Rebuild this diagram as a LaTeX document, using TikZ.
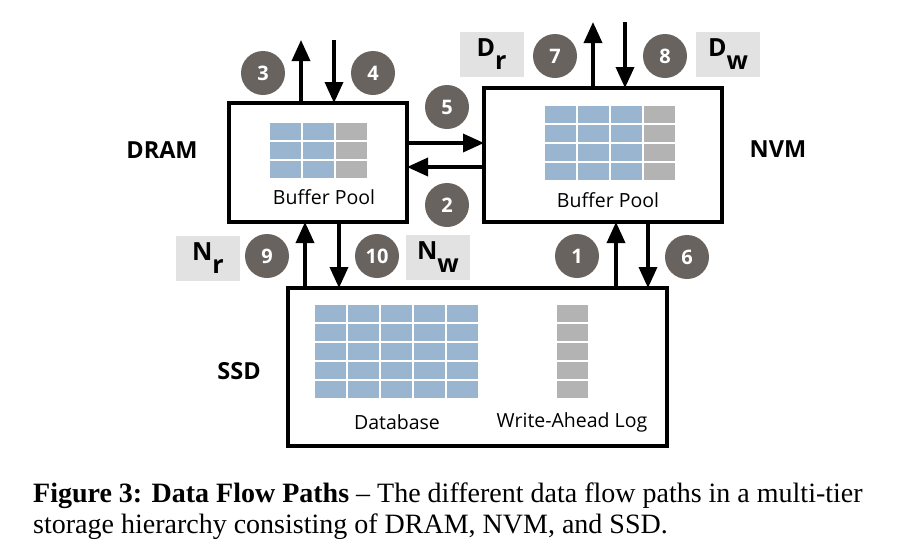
\documentclass[tikz,border=0pt]{standalone}
\usepackage{fontspec}
\setmainfont{Liberation Serif}
\setsansfont{Open Sans}
\usepackage{xcolor}
\usetikzlibrary{arrows.meta}

\definecolor{cellblue}{HTML}{9AB5CF}
\definecolor{cellgray}{HTML}{B3B3B3}
\definecolor{tagbg}{HTML}{E2E2E2}
\definecolor{stepfill}{HTML}{69635F}

\newcommand{\tagtxt}[2]{\fontsize{25}{25}\selectfont\sffamily\bfseries #1\raisebox{-13pt}{#2}}

\begin{document}
\begin{tikzpicture}[x=1pt,y=-1pt,
            tier/.style={draw, rectangle, line width=3.5pt, outer sep=0pt, minimum width=#1},
            tierlabel/.style={font=\fontsize{23.5}{23.5}\selectfont\sffamily\bfseries},
            caption/.style={font=\sffamily\fontsize{19.5}{19.5}\selectfont},
            numdot/.style={circle, fill=stepfill, inner sep=0pt, minimum size=44pt, text=white, font=\fontsize{20}{20}\selectfont\sffamily\bfseries},
            tag/.style={fill=tagbg, minimum width=64pt, minimum height=45pt, inner sep=0pt},
            arr/.style={line width=3.5pt, -{Triangle[length=21pt,width=18pt]}},
            cellb/.style={fill=cellblue, draw=white, line width=1.2pt},
            cellg/.style={fill=cellgray, draw=white, line width=1.2pt}
            ]
            \useasboundingbox[fill=white] (0,0) rectangle (898,552);

            % Tier boxes with manual coordinates
            \node[tier=178pt, minimum height=119pt] (dram) at (318,162.5) {};
            \node[tier=238pt, minimum height=134pt] (nvm) at (603,155) {};
            \node[tier=379pt, minimum height=158pt] (ssd) at (477.5,367) {};

            \node[tierlabel] (dramlbl) at (162,150) {DRAM};
            \node[tierlabel] (nvmlbl) at (778,149) {NVM};
            \node[tierlabel] (ssdlbl) at (239,371) {SSD};

            % Cell grids
            \foreach \c in {0,1} \foreach \r in {0,1,2}
                \filldraw[cellb] (269+\c*33,122+\r*19) rectangle +(33,19);
            \foreach \r in {0,1,2}
                \filldraw[cellg] (335,122+\r*19) rectangle +(33,19);
            \foreach \c in {0,1,2} \foreach \r in {0,...,3}
                \filldraw[cellb] (544+\c*33,105+\r*19) rectangle +(33,19);
            \foreach \r in {0,...,3}
                \filldraw[cellg] (643,105+\r*19) rectangle +(33,19);
            \foreach \c in {0,...,4} \foreach \r in {0,...,4}
                \filldraw[cellb] (314+\c*33,304+\r*19) rectangle +(33,19);
            \foreach \r in {0,...,4}
                \filldraw[cellg] (556,304+\r*19) rectangle +(33,19);

            \node[caption] (drambp) at (324,197) {Buffer Pool};
            \node[caption] (nvmbp) at (608,200) {Buffer Pool};
            \node[caption] (db) at (397,422) {Database};
            \node[caption] (wal) at (572,422) {Write-Ahead Log};

            % Free ends of the outer arrows
            \coordinate (out3) at (301,40);
            \coordinate (in4) at (334,40);
            \coordinate (out7) at (593,22);
            \coordinate (in8) at (625,22);
            % Columns of the arrows towards the SSD
            \coordinate (col9) at (305,0);
            \coordinate (col10) at (339,0);
            \coordinate (col1) at (616,0);
            \coordinate (col6) at (648,0);

            % Arrows
            \draw[arr] (out3 |- dram.north) -- (out3);
            \draw[arr] (in4) -- (in4 |- dram.north);
            \draw[arr] ([yshift=19.5pt]dram.east) -- ([yshift=19.5pt]dram.east -| nvm.west);
            \draw[arr] ([yshift=-4.5pt]dram.east -| nvm.west) -- ([yshift=-4.5pt]dram.east);
            \draw[arr] (out7 |- nvm.north) -- (out7);
            \draw[arr] (in8) -- (in8 |- nvm.north);
            \draw[arr] (col9 |- ssd.north) -- (col9 |- dram.south);
            \draw[arr] (col10 |- dram.south) -- (col10 |- ssd.north);
            \draw[arr] (col1 |- ssd.north) -- (col1 |- nvm.south);
            \draw[arr] (col6 |- nvm.south) -- (col6 |- ssd.north);

            % Step numbers
            \node[numdot] (s1) at (577,256) {1};
            \node[numdot] (s2) at (447,205) {2};
            \node[numdot] (s3) at (263,73) {3};
            \node[numdot] (s4) at (373,73) {4};
            \node[numdot] (s5) at (447,107) {5};
            \node[numdot] (s6) at (687,257) {6};
            \node[numdot] (s7) at (555,56) {7};
            \node[numdot] (s8) at (665,56) {8};
            \node[numdot] (s9) at (267,256) {9};
            \node[numdot] (s10) at (377,256) {10};

            % Read/write tags
            \node[tag] (dr) at (491.5,54.5) {\tagtxt{D}{r}};
            \node[tag] (dw) at (728,54.5) {\tagtxt{D}{w}};
            \node[tag] (nr) at (208,258) {\tagtxt{N}{r}};
            \node[tag] (nw) at (438,257.5) {\tagtxt{N}{w}};

            % Caption
            \node[anchor=base west, inner sep=0pt, font=\fontsize{28}{28}\selectfont] (cap1) at (33,502)
                {\textbf{Figure 3: Data Flow Paths} -- The different data flow paths in a multi-tier};
            \node[anchor=base west, inner sep=0pt, font=\fontsize{28}{28}\selectfont] (cap2) at (33,533)
                {storage hierarchy consisting of DRAM, NVM, and SSD.};
        \end{tikzpicture}
\end{document}
